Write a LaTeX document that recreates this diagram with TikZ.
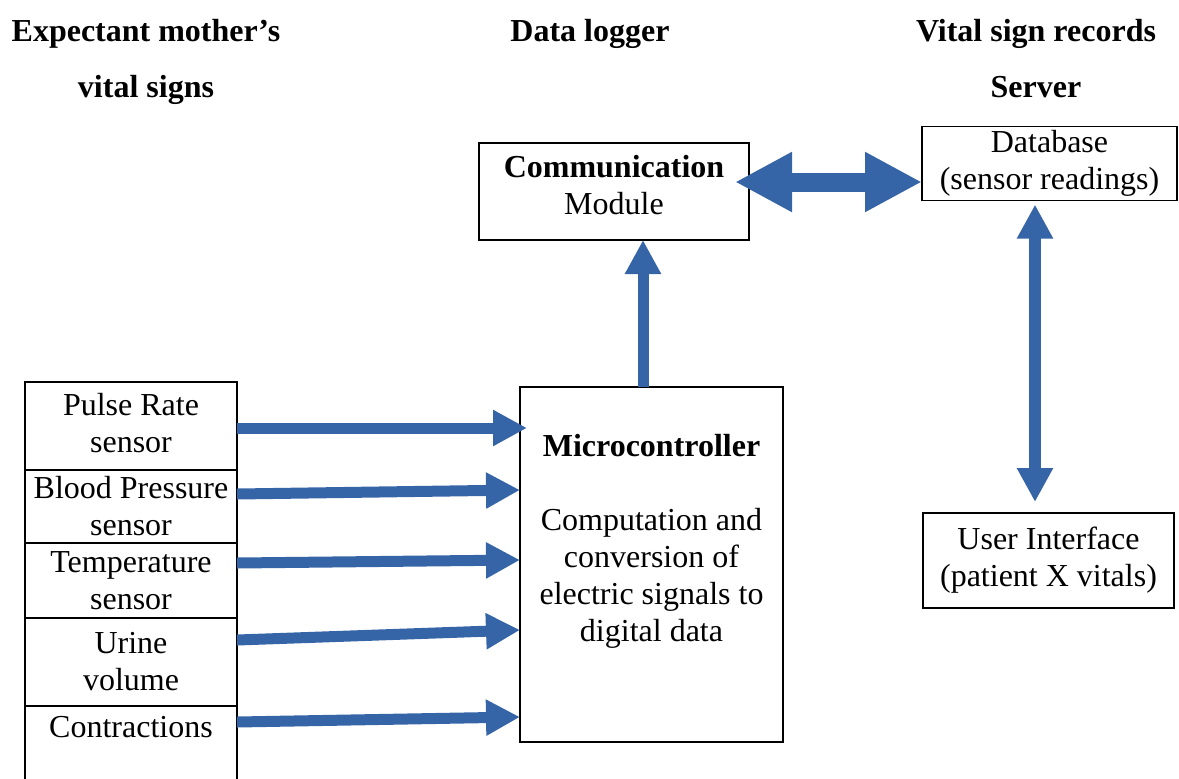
\documentclass[tikz,border=0pt]{standalone}
\usepackage{fontspec}
\setmainfont{Liberation Serif}
\usetikzlibrary{positioning,arrows.meta,calc}
\definecolor{arrowblue}{RGB}{54,101,167}

\begin{document}
\begin{tikzpicture}[
  x=0.5pt, y=-0.5pt,
  every node/.style={font=\fontsize{16pt}{18.5pt}\selectfont},
  box/.style={draw, line width=0.75pt, align=center, inner sep=2pt, outer sep=0pt},
  sensor/.style={box, minimum width=106pt},
  title/.style={font=\fontsize{16pt}{18.5pt}\selectfont\bfseries, anchor=base},
  arr/.style={color=arrowblue, line width=5.5pt,
              -{Triangle[length=17pt, width=17pt]}},
  dblarr/.style={color=arrowblue, line width=9.5pt,
                 {Triangle[length=28.5pt, width=28pt]}-{Triangle[length=28.5pt, width=28pt]}},
  varr/.style={color=arrowblue, line width=6pt,
               {Triangle[length=17pt, width=17pt]}-{Triangle[length=17pt, width=17pt]}},
]
  \useasboundingbox (0,0) rectangle (1179,778);
  \clip (0,0) rectangle (1179,778);

  % column titles
  \node[title] (mother1) at (146,41) {Expectant mother’s};
  \node[title] (mother2) at (146,97) {vital signs};
  \node[title] (logger) at (590,41) {Data logger};
  \node[title] (server1) at (1036,41) {Vital sign records};
  \node[title] (server2) at (1036,97) {Server};

  % sensors
  \node[sensor, minimum height=44pt, anchor=north] (pulse) at (131,382) {Pulse Rate\\sensor\\[-15.5pt]~};
  \node[sensor, minimum height=36.5pt, below=0pt of pulse] (bp) {Blood Pressure\\sensor};
  \node[sensor, minimum height=37.5pt, below=0pt of bp] (temp) {Temperature\\sensor};
  \node[sensor, minimum height=44pt, below=0pt of temp] (urine) {Urine\\volume};
  \node[sensor, minimum height=44pt, below=0pt of urine] (contr) {Contractions\\[5pt]~};

  % data logger
  \node[box, minimum width=131.5pt, minimum height=177.5pt] (micro) at (651.5,564.5)
    {\textbf{Microcontroller}\\ \\Computation and\\conversion of\\electric signals to\\digital data\\[8.5pt]~};
  \node[box, minimum width=135pt, minimum height=48.5pt] (comm) at (614,191.5)
    {\textbf{Communication}\\Module\\[-11.5pt]~};

  % server
  \node[box, minimum width=127.5pt, minimum height=36.5pt] (db) at (1049.5,163.5)
    {Database\\(sensor readings)};
  \node[box, minimum width=125.5pt, minimum height=47.5pt] (ui) at (1048.5,560.5)
    {User Interface\\(patient X vitals)};

  \draw[arr] (pulse.east |- 0,428) -- ($(micro.west |- 0,428)+(7,0)$);
  \draw[arr] (bp.east |- 0,494) -- (micro.west |- 0,490);
  \draw[arr] (temp.east |- 0,563) -- (micro.west |- 0,560);
  \draw[arr] (urine.east |- 0,640) -- (micro.west |- 0,630);
  \draw[arr] (contr.east |- 0,722) -- (micro.west |- 0,717);
  \draw[arr] (micro.north -| 643,0) -- (comm.south -| 643,0);
  \draw[dblarr] ($(comm.east |- 0,182)+(-14,0)$) -- (db.west |- 0,182);
  \draw[varr] ($(db.south -| 1035,0)+(0,4)$) -- ($(ui.north -| 1035,0)+(0,-11)$);
\end{tikzpicture}
\end{document}
